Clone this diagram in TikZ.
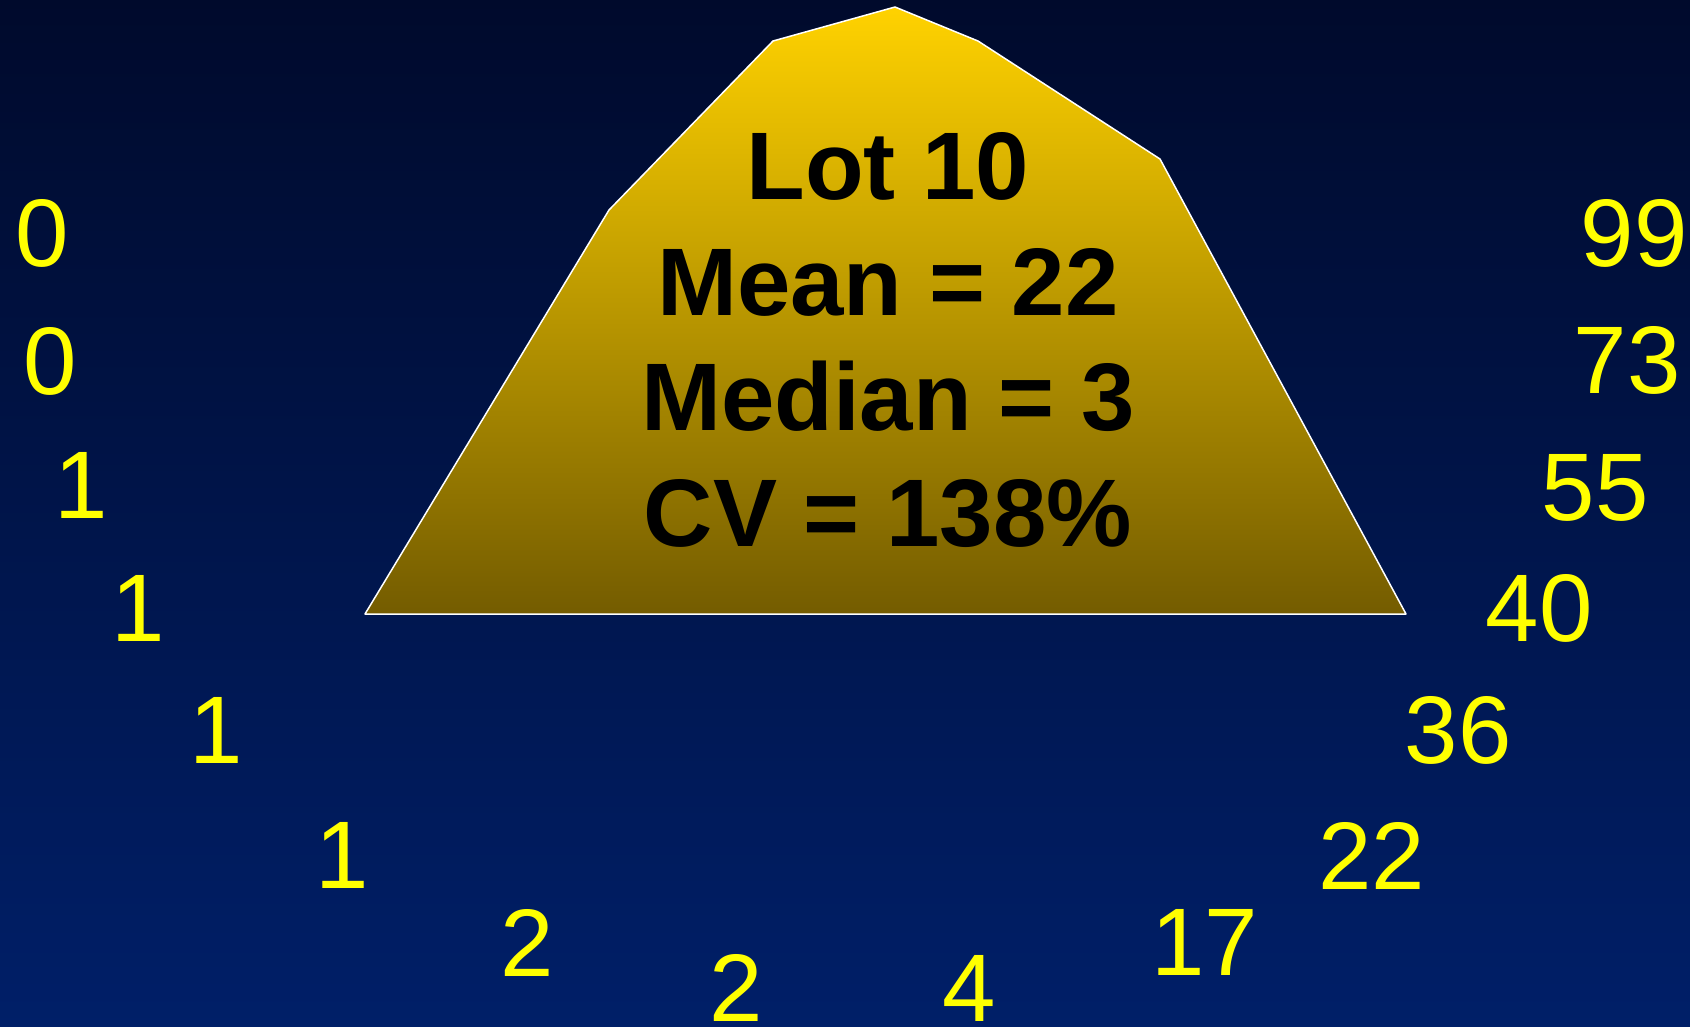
\documentclass[tikz,border=0pt]{standalone}
\usepackage{fontspec}
\setmainfont{Liberation Sans}
\definecolor{bgtop}{RGB}{0,10,44}
\definecolor{bgbot}{RGB}{0,31,104}
\definecolor{goldtop}{RGB}{255,210,0}
\definecolor{goldbot}{RGB}{116,92,0}
\definecolor{numyellow}{RGB}{255,255,0}

\begin{document}
\begin{tikzpicture}[x=1pt, y=-1pt,
	num/.style={text=numyellow, font=\fontsize{96}{110}\selectfont, anchor=base, inner sep=0pt},
	stat/.style={text=black, font=\fontsize{96}{110}\selectfont\bfseries, anchor=base, inner sep=0pt}]
	\shade[top color=bgtop, bottom color=bgbot] (0,0) rectangle (1690,1026);
	\useasboundingbox (0,0) rectangle (1690,1026);
	% the lot outline
	\shadedraw[top color=goldtop, bottom color=goldbot, draw=white, line width=1.5pt, line join=round]
		(365,614) -- (609,210) -- (773,41) -- (895,7) -- (978,41) -- (1160,159) -- (1406,614) -- cycle;
	\node[stat] (lot) at (888,199) {Lot 10};
	\node[stat] (mean) at (888,315) {Mean = 22};
	\node[stat] (median) at (888,430) {Median = 3};
	\node[stat] (cv) at (888,546) {CV = 138\%};
	% counts round the outline
	\foreach \v/\px/\py/\n in {0/42/266/l1, 0/50/394/l2, 1/81/518/l3, 1/138/641/l4, 1/216/763/l5, 1/342/888/l6,
		2/527/976/b1, 2/736/1021/b2, 4/969/1021/b3, 17/1205/975/b4,
		22/1372/889/r6, 36/1458/763/r5, 40/1539/641/r4, 55/1595/520/r3, 73/1627/393/r2, 99/1634/266/r1}
		{\node[num] (\n) at (\px,\py) {\v};}
\end{tikzpicture}
\end{document}
